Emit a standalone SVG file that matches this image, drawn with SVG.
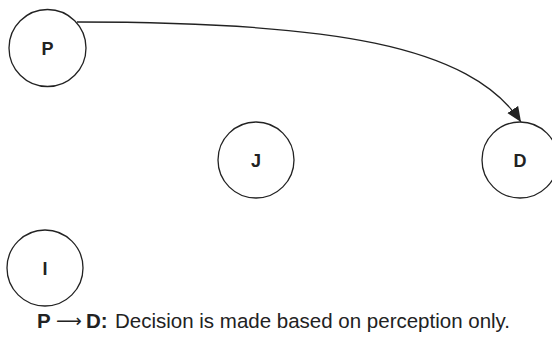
<svg xmlns="http://www.w3.org/2000/svg" width="552" height="353" viewBox="0 0 552 353">
<style>
.node{fill:#fff;stroke:#222;stroke-width:1.3}
.lbl{font-family:"Liberation Sans",Arial,sans-serif;font-size:18px;font-weight:bold;fill:#222;text-anchor:middle}
.edge{fill:none;stroke:#222;stroke-width:1.3}
.cap{font-family:"Liberation Sans",Arial,sans-serif;font-size:20.5px;fill:#222}
.capb{font-family:"Liberation Sans",Arial,sans-serif;font-size:20.5px;font-weight:bold;fill:#222}
.arrow{font-family:"DejaVu Sans",sans-serif;font-size:18px;fill:#222}
</style>
<defs>
<marker id="arr" markerWidth="16" markerHeight="14" refX="15" refY="6.5" orient="auto" markerUnits="userSpaceOnUse">
<path d="M0,0 L15,6.5 L0,13 z" fill="#222"/>
</marker>
</defs>
<g id="edges">
<path class="edge" d="M77,22 C330,22 470,45 521,122" marker-end="url(#arr)"/>
</g>
<g id="P"><circle class="node" cx="47.5" cy="48" r="38.5"/><text class="lbl" x="47.5" y="54.5">P</text></g>
<g id="J"><circle class="node" cx="256" cy="160" r="38"/><text class="lbl" x="256" y="166.5">J</text></g>
<g id="D"><circle class="node" cx="520" cy="160" r="38"/><text class="lbl" x="520" y="166.5">D</text></g>
<g id="I"><circle class="node" cx="45" cy="268" r="38"/><text class="lbl" x="45" y="274.5">I</text></g>
<text class="capb" x="37" y="328">P</text>
<text class="arrow" x="56" y="327">⟶</text>
<text class="capb" x="86" y="328">D:</text>
<text class="cap" x="115" y="328">Decision is made based on perception only.</text>
</svg>
